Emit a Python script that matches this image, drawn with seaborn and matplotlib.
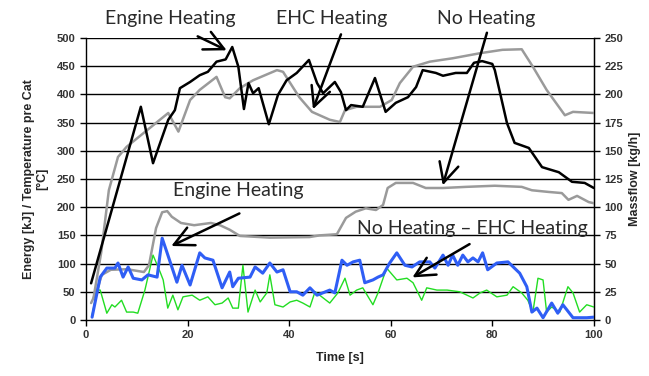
import matplotlib
matplotlib.use("Agg")
import matplotlib.pyplot as plt
import seaborn as sns
import pandas as pd

# ---- data ----
engine_temp_t = [1, 10.8, 13.2, 16.2, 17.5, 18.5, 20.5, 22.4, 24, 25.7, 27.5, 28.8, 30, 31.1, 32, 32.9, 34,
                 36, 37.8, 39.5, 41.5, 43.9, 45.5, 46.7, 49, 50.2, 51.2, 52.2, 54.5, 56.9, 59, 61, 63.4,
                 65, 66.3, 68.9, 70.3, 72.8, 75, 76.4, 78, 80, 80.5, 82.9, 84.4, 87.2, 89.8, 93.1, 95.7, 98.2, 100]
engine_temp_v = [65, 378, 278, 355, 372, 411, 422, 434, 440, 458, 462, 484, 449, 374, 420, 402, 411,
                 347, 399, 425, 438, 461, 420, 402, 422, 404, 372, 381, 378, 429, 369, 385, 395,
                 413, 443, 438, 433, 438, 438, 456, 459, 454, 443, 349, 314, 305, 271, 262, 245, 243, 234]

ehc_temp_t = [1.5, 3, 4.5, 6.3, 8, 16.2, 18.2, 20.5, 22.4, 25.7, 27.4, 28.3, 30.3, 32.9, 37.6, 38.8, 42,
              44.5, 48, 50, 51, 53.3, 57.9, 60.2, 61.8, 64.4, 67.7, 72.2, 77.6, 82, 85.8, 88, 90.7,
              94.3, 95.9, 100]
ehc_temp_v = [40, 120, 230, 289, 307, 367, 334, 390, 408, 431, 395, 393, 411, 425, 443, 440, 395,
              369, 355, 351, 372, 378, 378, 390, 420, 449, 458, 464, 473, 479, 480, 449, 408,
              363, 369, 367]

noheat_t = [1, 2.2, 3.1, 4.9, 8.1, 11.4, 12.4, 13.8, 15, 16, 16.9, 18.7, 21.3, 24.6, 26.4, 28.3, 30.3,
            36.2, 44, 46, 49.4, 51.2, 53.1, 55.1, 57.1, 58.5, 59.4, 61, 64.4, 66.9, 70.3, 74.8, 80.5,
            85.8, 87.8, 91.1, 93.7, 95, 96.7, 99, 100]
noheat_v = [30, 53, 80, 89, 90, 85, 97, 163, 191, 193, 183, 172, 168, 172, 168, 160, 149,
            146, 147, 150, 152, 181, 192, 198, 195, 204, 234, 243, 243, 234, 234, 236, 238,
            236, 230, 227, 225, 213, 220, 209, 207]

engine_energy_t = [1.2, 2.8, 4.1, 5.7, 6.3, 7.3, 8.3, 9.3, 11, 12.2, 14, 15, 15.9, 17.9, 18.9, 20.5, 22.4,
                   23.4, 25, 26.8, 28.3, 28.9, 30, 32.3, 33.3, 34.8, 36.2, 37.6, 38.8, 40.2, 41.5, 42.7,
                   44.1, 45.5, 48, 49, 50.4, 51.4, 52.6, 53.9, 54.9, 56.5, 57.5, 58.5, 59.8, 61.2, 62.8,
                   64.2, 65.7, 67.7, 68.7, 70.3, 71.3, 72.2, 73.2, 74.2, 75.2, 76.2, 77.2, 78.1, 79.1,
                   80.9, 83.1, 85.4, 86.8, 87.8, 88.8, 90, 91.7, 92.9, 93.9, 95.9, 98.6, 100]
engine_energy_v = [5, 76, 92, 92, 101, 76, 94, 74, 71, 80, 76, 145, 121, 67, 97, 62, 119,
                   110, 106, 57, 85, 59, 74, 76, 94, 83, 101, 85, 89, 50, 50, 44,
                   57, 44, 53, 48, 106, 97, 103, 106, 66, 71, 76, 80, 101, 119, 97,
                   94, 103, 103, 92, 115, 97, 115, 97, 115, 103, 110, 103, 119, 89,
                   101, 103, 83, 59, 14, 21, 4, 30, 12, 27, 4, 4, 5]

diff_t = [1.2, 2.2, 2.8, 4.1, 5.1, 5.7, 7, 8, 9.3, 10.2, 11.6, 13.2, 14.6, 15.2, 16.1, 17.1, 18.1, 19.1,
          20.9, 22.4, 24, 25.4, 26.8, 28, 28.9, 30, 30.9, 31.9, 33.3, 34.3, 35.6, 36.2, 37.2, 38.8,
          40.2, 41.5, 42.7, 44.1, 45.1, 46, 48, 49.6, 51, 52, 53.3, 54.5, 56.5, 57.5, 59.2, 61.2,
          63.2, 64.4, 66.1, 67.1, 69.1, 71.1, 73.6, 76.2, 77.6, 78.9, 80.9, 82.9, 84.1, 85.8, 87,
          88, 89, 90, 90.7, 91.7, 93.3, 94.9, 95.9, 97.2, 98.6, 100]
diff_v = [9, 53, 53, 12, 27, 23, 35, 14, 14, 12, 53, 115, 85, 71, 21, 44, 18, 41,
          44, 35, 41, 27, 30, 39, 21, 21, 97, 14, 53, 32, 48, 80, 27, 23,
          32, 35, 30, 23, 50, 44, 30, 48, 74, 44, 53, 57, 27, 48, 92, 71,
          74, 66, 35, 57, 53, 53, 50, 39, 48, 53, 41, 44, 59, 48, 35,
          14, 74, 71, 14, 23, 14, 59, 48, 14, 27, 23]

left_ticks = [0, 50, 100, 150, 200, 250, 300, 350, 400, 450, 500]
right_ticks = [0, 25, 50, 75, 100, 125, 150, 175, 200, 225, 250]
x_ticks = [0, 20, 40, 60, 80, 100]

sns.set_style("white")
plt.rcParams['font.family'] = ['Liberation Sans', 'DejaVu Sans']

fig = plt.figure(figsize=(6.49, 3.76), dpi=100)
ax = fig.add_axes([0.1325, 0.149, 0.7825, 0.75])

series = [
    (noheat_t, noheat_v, "#9a9a9a", 1.8),
    (ehc_temp_t, ehc_temp_v, "#9a9a9a", 1.8),
    (engine_temp_t, engine_temp_v, "#000000", 1.8),
    (diff_t, diff_v, "#22dd22", 1.0),
    (engine_energy_t, engine_energy_v, "#2f5ef5", 2.2),
]
for t, v, c, lw in series:
    df = pd.DataFrame({"t": t, "v": v})
    sns.lineplot(data=df, x="t", y="v", ax=ax, color=c, lw=lw, estimator=None, sort=False, zorder=3)

ax.set_xlim(0, 100)
ax.set_ylim(0, 500)
ax.set_xticks(x_ticks)
ax.set_yticks(left_ticks)
for y in left_ticks[1:]:
    ax.axhline(y, color="black", lw=1.0, zorder=1)
ax.spines["top"].set_visible(False)
for s in ["left", "bottom", "right"]:
    ax.spines[s].set_color("black")
    ax.spines[s].set_linewidth(1.0)
ax.tick_params(axis="both", direction="out", length=4, width=1, color="black",
               labelsize=8, bottom=True, left=True, labelcolor="#333333")
for lab in ax.get_xticklabels() + ax.get_yticklabels():
    lab.set_fontweight("bold")
ax.set_xlabel("Time [s]", fontsize=9, fontweight="bold", labelpad=8)
ax.set_ylabel("Energy [kJ] / Temperature pre Cat\n[°C]", fontsize=9, fontweight="bold", labelpad=6)

ax2 = ax.twinx()
ax2.set_ylim(0, 250)
ax2.set_yticks(right_ticks)
ax2.tick_params(axis="y", direction="out", length=4, width=1, color="black", labelsize=8,
                right=True, labelcolor="#333333")
for lab in ax2.get_yticklabels():
    lab.set_fontweight("bold")
for s in ["top", "left", "bottom"]:
    ax2.spines[s].set_visible(False)
ax2.spines["right"].set_color("black")
ax2.set_ylabel("Massflow [kg/h]", fontsize=9, fontweight="bold", labelpad=4)

# annotations
tfont = dict(fontsize=14, family=["Lato", "DejaVu Sans"], color="#2a2a2a", ha="center", va="center")
arrow = dict(arrowstyle="->,head_length=0.7,head_width=0.35", lw=1.8, color="black", mutation_scale=20)
notes = [
    ("Engine Heating", (16.5, 535), (28.2, 476), (21.5, 505)),
    ("EHC Heating", (48.4, 535), (44.5, 369), (50.4, 511)),
    ("No Heating", (78.7, 535), (70.1, 234), (79.1, 514)),
    ("Engine Heating", (29.9, 230), (16.3, 129), (30.7, 191)),
    ("No Heating – EHC Heating", (76, 163), (63.8, 73), (76, 137)),
]
for text, tpos, head, tail in notes:
    ax.text(tpos[0], tpos[1], text, clip_on=False, zorder=5, **tfont)
    ax.annotate("", xy=head, xytext=tail, arrowprops=arrow, annotation_clip=False, zorder=6)

fig.savefig("out.png", dpi=100)
